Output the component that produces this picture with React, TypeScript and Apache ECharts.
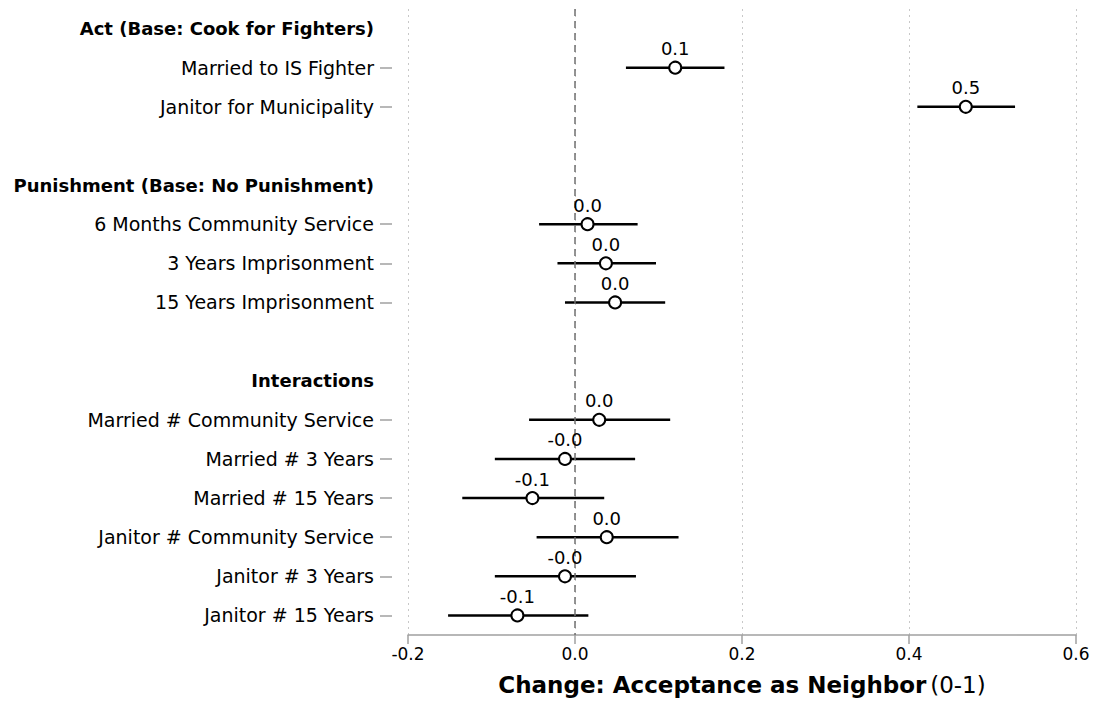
import React, { useEffect, useRef } from "react";
import * as echarts from "echarts";

const categories = [
  "Act (Base: Cook for Fighters)",
  "Married to IS Fighter",
  "Janitor for Municipality",
  " ",
  "Punishment (Base: No Punishment)",
  "6 Months Community Service",
  "3 Years Imprisonment",
  "15 Years Imprisonment",
  "  ",
  "Interactions",
  "Married # Community Service",
  "Married # 3 Years",
  "Married # 15 Years",
  "Janitor # Community Service",
  "Janitor # 3 Years",
  "Janitor # 15 Years",
];

const headerRows = [
  "Act (Base: Cook for Fighters)",
  "Punishment (Base: No Punishment)",
  "Interactions",
];

const estimates: (number | null)[] = [
  null, 0.12, 0.468, null, null, 0.015, 0.037, 0.048, null, null,
  0.029, -0.012, -0.051, 0.038, -0.012, -0.069,
];
const lowerCI: (number | null)[] = [
  null, 0.061, 0.41, null, null, -0.043, -0.021, -0.012, null, null,
  -0.055, -0.096, -0.135, -0.046, -0.096, -0.152,
];
const upperCI: (number | null)[] = [
  null, 0.179, 0.527, null, null, 0.075, 0.097, 0.108, null, null,
  0.114, 0.072, 0.035, 0.124, 0.073, 0.016,
];

const xTicksMin = -0.2;
const xTicksMax = 0.6;
const xTickStep = 0.2;

const FONT = "DejaVu Sans";

export default function App() {
  const ref = useRef<HTMLDivElement>(null);

  useEffect(() => {
    document.body.style.margin = "0";
    if (!ref.current) return;
    const chart = echarts.init(ref.current, null, { renderer: "svg" });

    const ciData: any[] = [];
    const pointData: any[] = [];
    categories.forEach((_, i) => {
      if (estimates[i] !== null) {
        ciData.push([lowerCI[i], i, upperCI[i]]);
        pointData.push([estimates[i], i]);
      }
    });

    const option: any = {
      animation: false,
      backgroundColor: "#fff",
      textStyle: { fontFamily: FONT },
      grid: { left: 408, right: 18, top: 9, bottom: 77, containLabel: false },
      xAxis: {
        type: "value",
        min: xTicksMin,
        max: xTicksMax,
        interval: xTickStep,
        axisLine: { show: true, onZero: false, lineStyle: { color: "#a0a0a0", width: 1.5 } },
        axisTick: { show: true, length: 9, lineStyle: { color: "#a0a0a0", width: 1.5 } },
        axisLabel: {
          margin: 10,
          fontSize: 17,
          color: "#000",
          fontFamily: FONT,
          formatter: (v: number) => v.toFixed(1),
        },
        splitLine: {
          show: true,
          lineStyle: { color: "#c8c8c8", type: [2, 4], width: 1 },
        },
        name: "{b|Change: Acceptance as Neighbor} {r|(0-1)}",
        nameLocation: "middle",
        nameGap: 38,
        nameTextStyle: {
          rich: {
            b: { fontSize: 23, fontWeight: "bold", color: "#000", fontFamily: FONT },
            r: { fontSize: 23, color: "#000", fontFamily: FONT },
          },
        },
      },
      yAxis: {
        type: "category",
        data: categories,
        inverse: true,
        offset: 16,
        axisLine: { show: false, onZero: false },
        axisTick: {
          show: true,
          alignWithLabel: true,
          length: 12,
          interval: (index: number) => estimates[index] !== null,
          lineStyle: { color: "#a0a0a0", width: 1.5 },
        },
        axisLabel: {
          interval: 0,
          margin: 18,
          fontSize: 19,
          color: "#000",
          fontFamily: FONT,
          formatter: (v: string) =>
            headerRows.includes(v) ? `{h|${v}}` : v,
          rich: {
            h: { fontSize: 18, fontWeight: "bold", color: "#000", fontFamily: FONT },
          },
        },
        splitLine: { show: false },
      },
      series: [
        {
          type: "custom",
          data: ciData,
          encode: { x: [0, 2], y: 1 },
          renderItem: (params: any, api: any) => {
            const y = api.value(1);
            const p1 = api.coord([api.value(0), y]);
            const p2 = api.coord([api.value(2), y]);
            return {
              type: "line",
              shape: { x1: p1[0], y1: p1[1], x2: p2[0], y2: p2[1] },
              style: { stroke: "#000", lineWidth: 2.5 },
            };
          },
          markLine: {
            silent: true,
            symbol: "none",
            label: { show: false },
            lineStyle: { color: "#707070", type: [7, 5], width: 1.5 },
            data: [{ xAxis: 0 }],
          },
          z: 3,
        },
        {
          type: "scatter",
          data: pointData,
          symbol: "circle",
          symbolSize: 12,
          itemStyle: { color: "#fff", borderColor: "#000", borderWidth: 2, opacity: 1 },
          label: {
            show: true,
            position: "top",
            distance: 3,
            fontSize: 18,
            color: "#000",
            fontFamily: FONT,
            formatter: (p: any) => Number(p.value[0]).toFixed(1),
          },
          z: 5,
        },
      ],
    };

    chart.setOption(option);
    return () => chart.dispose();
  }, []);

  return <div ref={ref} style={{ width: 1094, height: 712 }} />;
}
